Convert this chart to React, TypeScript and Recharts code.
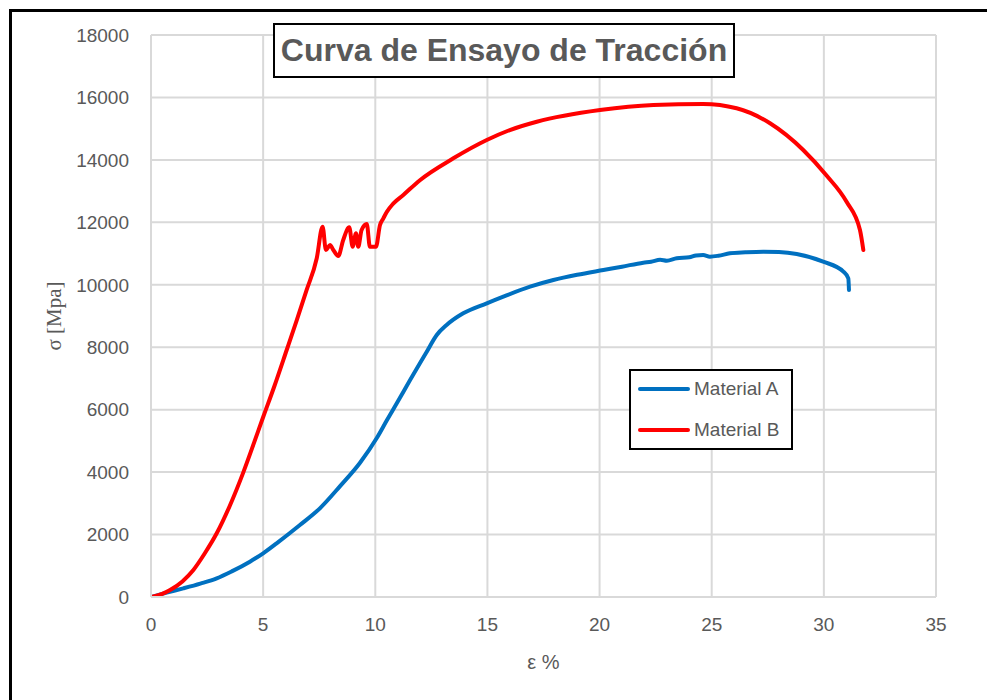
import React from 'react';
import { LineChart, Line, XAxis, YAxis, CartesianGrid, Legend, Label } from 'recharts';

const strainA = [0, 0.7, 1.44, 2.2, 2.93, 3.6, 4.41, 5.0, 5.6, 6.64, 7.53, 8.43, 9.32, 10.06, 10.51, 11.1, 11.4, 12.29, 12.74, 13.18, 13.92, 14.97, 15.71, 16.9, 17.94, 19.0, 20.17, 21.0, 21.95, 22.3, 22.7, 23.0, 23.44, 24.0, 24.3, 24.62, 24.92, 25.3, 25.81, 26.5, 27.3, 28.0, 28.79, 29.97, 30.87, 31.09, 31.12];
const stressA = [0, 140, 278, 430, 598, 820, 1131, 1400, 1720, 2306, 2840, 3550, 4300, 5083, 5650, 6380, 6760, 7850, 8391, 8711, 9086, 9406, 9620, 9939, 10153, 10320, 10473, 10580, 10708, 10740, 10800, 10770, 10848, 10880, 10940, 10954, 10900, 10930, 11008, 11040, 11060, 11050, 10986, 10740, 10420, 10206, 9833];

const strainB = [0, 0.5, 0.85, 1.4, 1.89, 2.4, 2.93, 3.5, 4.12, 4.6, 5.01, 5.5, 6.05, 6.5, 6.94, 7.39, 7.65, 7.8, 7.98, 8.13, 8.35, 8.57, 8.84, 8.99, 9.14, 9.24, 9.39, 9.62, 9.76, 10.03, 10.21, 10.36, 10.51, 10.8, 11.25, 11.99, 13.48, 14.97, 16.0, 17.2, 20.02, 22.4, 24.62, 26.11, 27.6, 29.08, 30.12, 31.02, 31.61, 31.76];
const stressB = [0, 100, 224, 500, 865, 1400, 2040, 2900, 4000, 4950, 5780, 6750, 7911, 8870, 9833, 10850, 11860, 11114, 11274, 11114, 10922, 11434, 11840, 11220, 11650, 11220, 11754, 11946, 11220, 11220, 11914, 12128, 12330, 12600, 12876, 13350, 14050, 14637, 14957, 15223, 15598, 15758, 15790, 15652, 15172, 14317, 13500, 12650, 11754, 11114];

const xTicks = [0, 5, 10, 15, 20, 25, 30, 35];
const yTicks = [0, 2000, 4000, 6000, 8000, 10000, 12000, 14000, 16000, 18000];

const seriesA = strainA.map((x, i) => ({ x, y: stressA[i] }));
const seriesB = strainB.map((x, i) => ({ x, y: stressB[i] }));

const GRAY = '#595959';
const FONT = '"Liberation Sans", Arial, sans-serif';

const renderLegend = (props: any) => {
  const payload = props.payload || [];
  return (
    <div style={{ width: 160, height: 77, border: '2px solid #000', background: '#fff', boxSizing: 'content-box' }}>
      {payload.map((p: any, i: number) => (
        <div key={i} style={{ position: 'absolute', left: 9, top: 8 + i * 41, height: 24, display: 'flex', alignItems: 'center' }}>
          <svg width={52} height={8} style={{ display: 'block' }}>
            <line x1={2} y1={4} x2={50} y2={4} stroke={p.color} strokeWidth={4} strokeLinecap="round" />
          </svg>
          <span style={{ marginLeft: 4, fontFamily: FONT, fontSize: 19, color: GRAY, whiteSpace: 'nowrap' }}>{p.value}</span>
        </div>
      ))}
    </div>
  );
};

const YLabel = (props: any) => {
  const vb = props.viewBox || { x: 0, y: 0, width: 0, height: 0 };
  const cx = 54;
  const cy = vb.y + vb.height / 2;
  return (
    <text x={cx} y={cy} transform={`rotate(-90 ${cx} ${cy})`} textAnchor="middle" dominantBaseline="central"
      fill={GRAY} fontFamily='"Liberation Serif", "Times New Roman", serif' fontSize={21}>σ [Mpa]</text>
  );
};

const XLabel = (props: any) => {
  const vb = props.viewBox || { x: 0, y: 0, width: 0, height: 0 };
  const cx = vb.x + vb.width / 2;
  const cy = vb.y + 65;
  return (
    <text x={cx} y={cy} textAnchor="middle" dominantBaseline="central" fill={GRAY} fontFamily={FONT} fontSize={20}>ε %</text>
  );
};

export default function App() {
  return (
    <div style={{ position: 'absolute', left: 0, top: 0, width: 987, height: 700, overflow: 'hidden', background: '#fff' }}>
      <div style={{ position: 'absolute', left: 9, top: 9, width: 1100, height: 800, border: '3px solid #000', boxSizing: 'border-box' }} />
      <div style={{ position: 'absolute', left: 0, top: 0 }}>
        <LineChart width={987} height={700} margin={{ top: 35, right: 51, bottom: 43, left: 0 }}>
          <CartesianGrid stroke="#d9d9d9" strokeWidth={2} />
          <XAxis type="number" dataKey="x" domain={[0, 35]} ticks={xTicks} allowDataOverflow
            axisLine={{ stroke: '#d9d9d9', strokeWidth: 2 }} tickLine={false} tickSize={0} tickMargin={21} height={60}
            tick={{ fill: GRAY, fontFamily: FONT, fontSize: 19 }}>
            <Label content={<XLabel />} />
          </XAxis>
          <YAxis type="number" dataKey="y" domain={[0, 18000]} ticks={yTicks} allowDataOverflow width={151}
            axisLine={{ stroke: '#d9d9d9', strokeWidth: 2 }} tickLine={false} tickSize={0} tickMargin={22}
            tick={{ fill: GRAY, fontFamily: FONT, fontSize: 19 }}>
            <Label content={<YLabel />} />
          </YAxis>
          <Legend layout="vertical" align="center" verticalAlign="middle" content={renderLegend}
            wrapperStyle={{ left: 629, top: 369, width: 164, height: 81 }} />
          <Line data={seriesA} dataKey="y" name="Material A" type="monotone" stroke="#0070C0" strokeWidth={4}
            dot={false} activeDot={false} isAnimationActive={false} strokeLinejoin="round" strokeLinecap="round" />
          <Line data={seriesB} dataKey="y" name="Material B" type="monotone" stroke="#FF0000" strokeWidth={4}
            dot={false} activeDot={false} isAnimationActive={false} strokeLinejoin="round" strokeLinecap="round" />
        </LineChart>
      </div>
      <div style={{ position: 'absolute', left: 273, top: 23, width: 462, height: 55, border: '2px solid #000', boxSizing: 'border-box', background: '#fff',
        display: 'flex', alignItems: 'center', justifyContent: 'center', fontFamily: FONT, fontWeight: 'bold', fontSize: 32, color: GRAY, whiteSpace: 'nowrap' }}>
        Curva de Ensayo de Tracción
      </div>
    </div>
  );
}
